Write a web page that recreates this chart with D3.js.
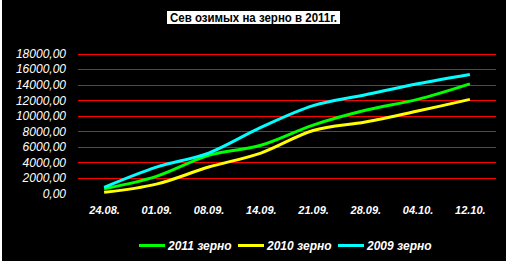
<!DOCTYPE html>
<html><head><meta charset="utf-8">
<script src="https://cdn.jsdelivr.net/npm/d3@7"></script>
<style>
html,body{margin:0;padding:0;background:#fff;}
svg{display:block;}
</style></head>
<body>
<svg id="chart" width="509" height="261"></svg>
<script>
const title = "Сев озимых на зерно в 2011г.";
const categories = ["24.08.", "01.09.", "08.09.", "14.09.", "21.09.", "28.09.", "04.10.", "12.10."];
const yTicks = [0, 2000, 4000, 6000, 8000, 10000, 12000, 14000, 16000, 18000];
const seriesNames = ["2011 зерно", "2010 зерно", "2009 зерно"];
const seriesColors = ["#00ff00", "#ffff00", "#00ffff"];
const values2011 = [600, 2200, 4900, 6200, 8800, 10700, 12100, 14100];
const values2010 = [150, 1200, 3400, 5200, 8100, 9200, 10600, 12100];
const values2009 = [800, 3400, 5200, 8500, 11300, 12700, 14100, 15300];
const seriesValues = [values2011, values2010, values2009];

const FONT = "'Liberation Sans', Arial, sans-serif";
const svg = d3.select("#chart");
svg.append("rect").attr("x", 2).attr("y", 0).attr("width", 504).attr("height", 261).attr("fill", "#000");

const x = d3.scalePoint().domain(categories).range([78, 496]).padding(0.5);
const y = d3.scaleLinear().domain([0, 18000]).range([193.5, 53.5]);
const fmt = v => d3.format(".2f")(v).replace(".", ",");

// gridlines (not at 0)
svg.append("g").selectAll("line").data(yTicks.filter(t => t > 0)).join("line")
  .attr("x1", 78).attr("x2", 496)
  .attr("y1", d => Math.round(y(d)) + 0.5).attr("y2", d => Math.round(y(d)) + 0.5)
  .attr("stroke", "#ff0000").attr("stroke-width", 1);

// y axis labels
const yAxis = d3.axisLeft(y).tickValues(yTicks).tickFormat(fmt).tickSize(0).tickPadding(0);
const yg = svg.append("g").attr("transform", "translate(66,0)").call(yAxis);
yg.select(".domain").remove();
yg.selectAll("text").style("fill", "#fff").style("font-family", FONT)
  .style("font-size", "12px").style("font-style", "italic");

// x axis labels
const xAxis = d3.axisBottom(x).tickSize(0).tickPadding(0);
const xg = svg.append("g").attr("transform", "translate(0,206)").call(xAxis);
xg.select(".domain").remove();
xg.selectAll("text").style("fill", "#fff").style("font-family", FONT)
  .style("font-size", "11px").style("font-style", "italic").style("font-weight", "bold");

// lines
const line = d3.line().x((d, i) => x(categories[i])).y(d => y(d)).curve(d3.curveCatmullRom.alpha(0));
seriesValues.forEach((vals, k) => {
  svg.append("path").datum(vals).attr("d", line).attr("fill", "none")
    .attr("stroke", seriesColors[k]).attr("stroke-width", 3).attr("stroke-linejoin", "round");
});

// title
const tg = svg.append("g");
tg.append("rect").attr("x", 167).attr("y", 11).attr("width", 173).attr("height", 13).attr("fill", "#fff");
tg.append("text").attr("x", 170).attr("y", 22)
  .attr("textLength", 167).attr("lengthAdjust", "spacingAndGlyphs")
  .style("font-family", FONT).style("font-size", "12px").style("font-weight", "bold")
  .style("fill", "#000").text(title);

// legend
const legendX = [139, 238, 338];
const lg = svg.append("g");
seriesNames.forEach((n, k) => {
  lg.append("line").attr("x1", legendX[k]).attr("x2", legendX[k] + 26).attr("y1", 245.5).attr("y2", 245.5)
    .attr("stroke", seriesColors[k]).attr("stroke-width", 3);
  lg.append("text").attr("x", legendX[k] + 29).attr("y", 250)
    .style("font-family", FONT).style("font-size", "12px")
    .style("font-style", "italic").style("font-weight", "bold").style("fill", "#fff").text(n);
});
</script>
</body></html>
